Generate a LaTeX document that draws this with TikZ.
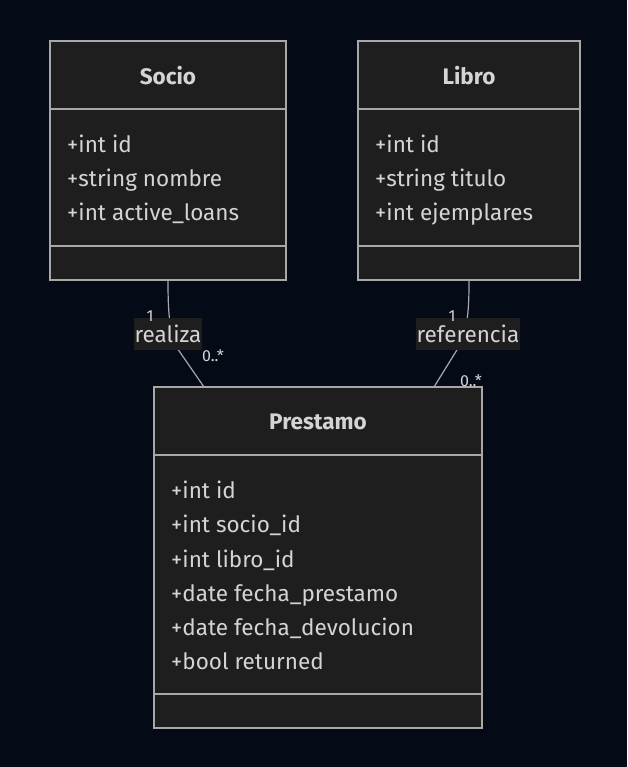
\documentclass[tikz,border=0pt]{standalone}
\usepackage{fontspec}
\setmainfont{Fira Sans}
\definecolor{bgc}{HTML}{050A17}
\definecolor{boxc}{HTML}{1E1E1E}
\definecolor{linec}{HTML}{A8A8A8}
\definecolor{txtc}{HTML}{D4D4D4}
\begin{document}
\begin{tikzpicture}[x=1pt,y=-1pt,
  cls/.style={draw=linec,fill=boxc,line width=1.2pt},
  sep/.style={draw=linec,line width=1.2pt},
  ttl/.style={text=txtc,font=\fontsize{22.5}{24}\selectfont\bfseries,inner sep=0pt},
  attr/.style={text=txtc,font=\fontsize{22.5}{24}\selectfont,anchor=base west,inner sep=0pt},
  rel/.style={draw=linec,line width=1.2pt},
  lbl/.style={fill=boxc,text=txtc,font=\fontsize{22.5}{24}\selectfont,inner xsep=0.5pt,minimum height=32pt},
  card/.style={text=txtc,font=\fontsize{16}{17}\selectfont,inner sep=0pt}]
\fill[bgc] (0,0) rectangle (627,767);
\useasboundingbox (0,0) rectangle (627,767);
% Socio
\path[cls] (50,41) rectangle (286,280);
\draw[sep] (50,109) -- (286,109);
\draw[sep] (50,246) -- (286,246);
\node[ttl] (socio) at (168,76) {Socio};
\node[attr] (s1) at (67,153) {+int id};
\node[attr] (s2) at (67,187) {+string nombre};
\node[attr] (s3) at (67,221) {+int active\_loans};
\coordinate (sb) at (168,280);
% Libro
\path[cls] (358,41) rectangle (580,280);
\draw[sep] (358,109) -- (580,109);
\draw[sep] (358,246) -- (580,246);
\node[ttl] (libro) at (469,76) {Libro};
\node[attr] (l1) at (375,153) {+int id};
\node[attr] (l2) at (375,187) {+string titulo};
\node[attr] (l3) at (375,221) {+int ejemplares};
\coordinate (lb) at (469,280);
% Prestamo
\path[cls] (154,387) rectangle (482,728);
\draw[sep] (154,455) -- (482,455);
\draw[sep] (154,694) -- (482,694);
\node[ttl] (prest) at (318,422) {Prestamo};
\node[attr] (p1) at (171,498) {+int id};
\node[attr] (p2) at (171,532) {+int socio\_id};
\node[attr] (p3) at (171,567) {+int libro\_id};
\node[attr] (p4) at (171,601) {+date fecha\_prestamo};
\node[attr] (p5) at (171,635) {+date fecha\_devolucion};
\node[attr] (p6) at (171,669) {+bool returned};
\coordinate (pt1) at (204,387);
\coordinate (pt2) at (434,387);
% relations
\draw[rel] (sb) .. controls (168,310) and (169,325) .. (175,345) -- (pt1);
\draw[rel] (lb) .. controls (469,310) and (468,325) .. (460,345) -- (pt2);
\node[lbl] (r1) at (168,334) {realiza};
\node[lbl] (r2) at (468,334) {referencia};
\node[card] (c1) at (150,316) {1};
\node[card] (c2) at (213,356) {0..*};
\node[card] (c3) at (452,316) {1};
\node[card] (c4) at (471,381) {0..*};
\end{tikzpicture}
\end{document}
